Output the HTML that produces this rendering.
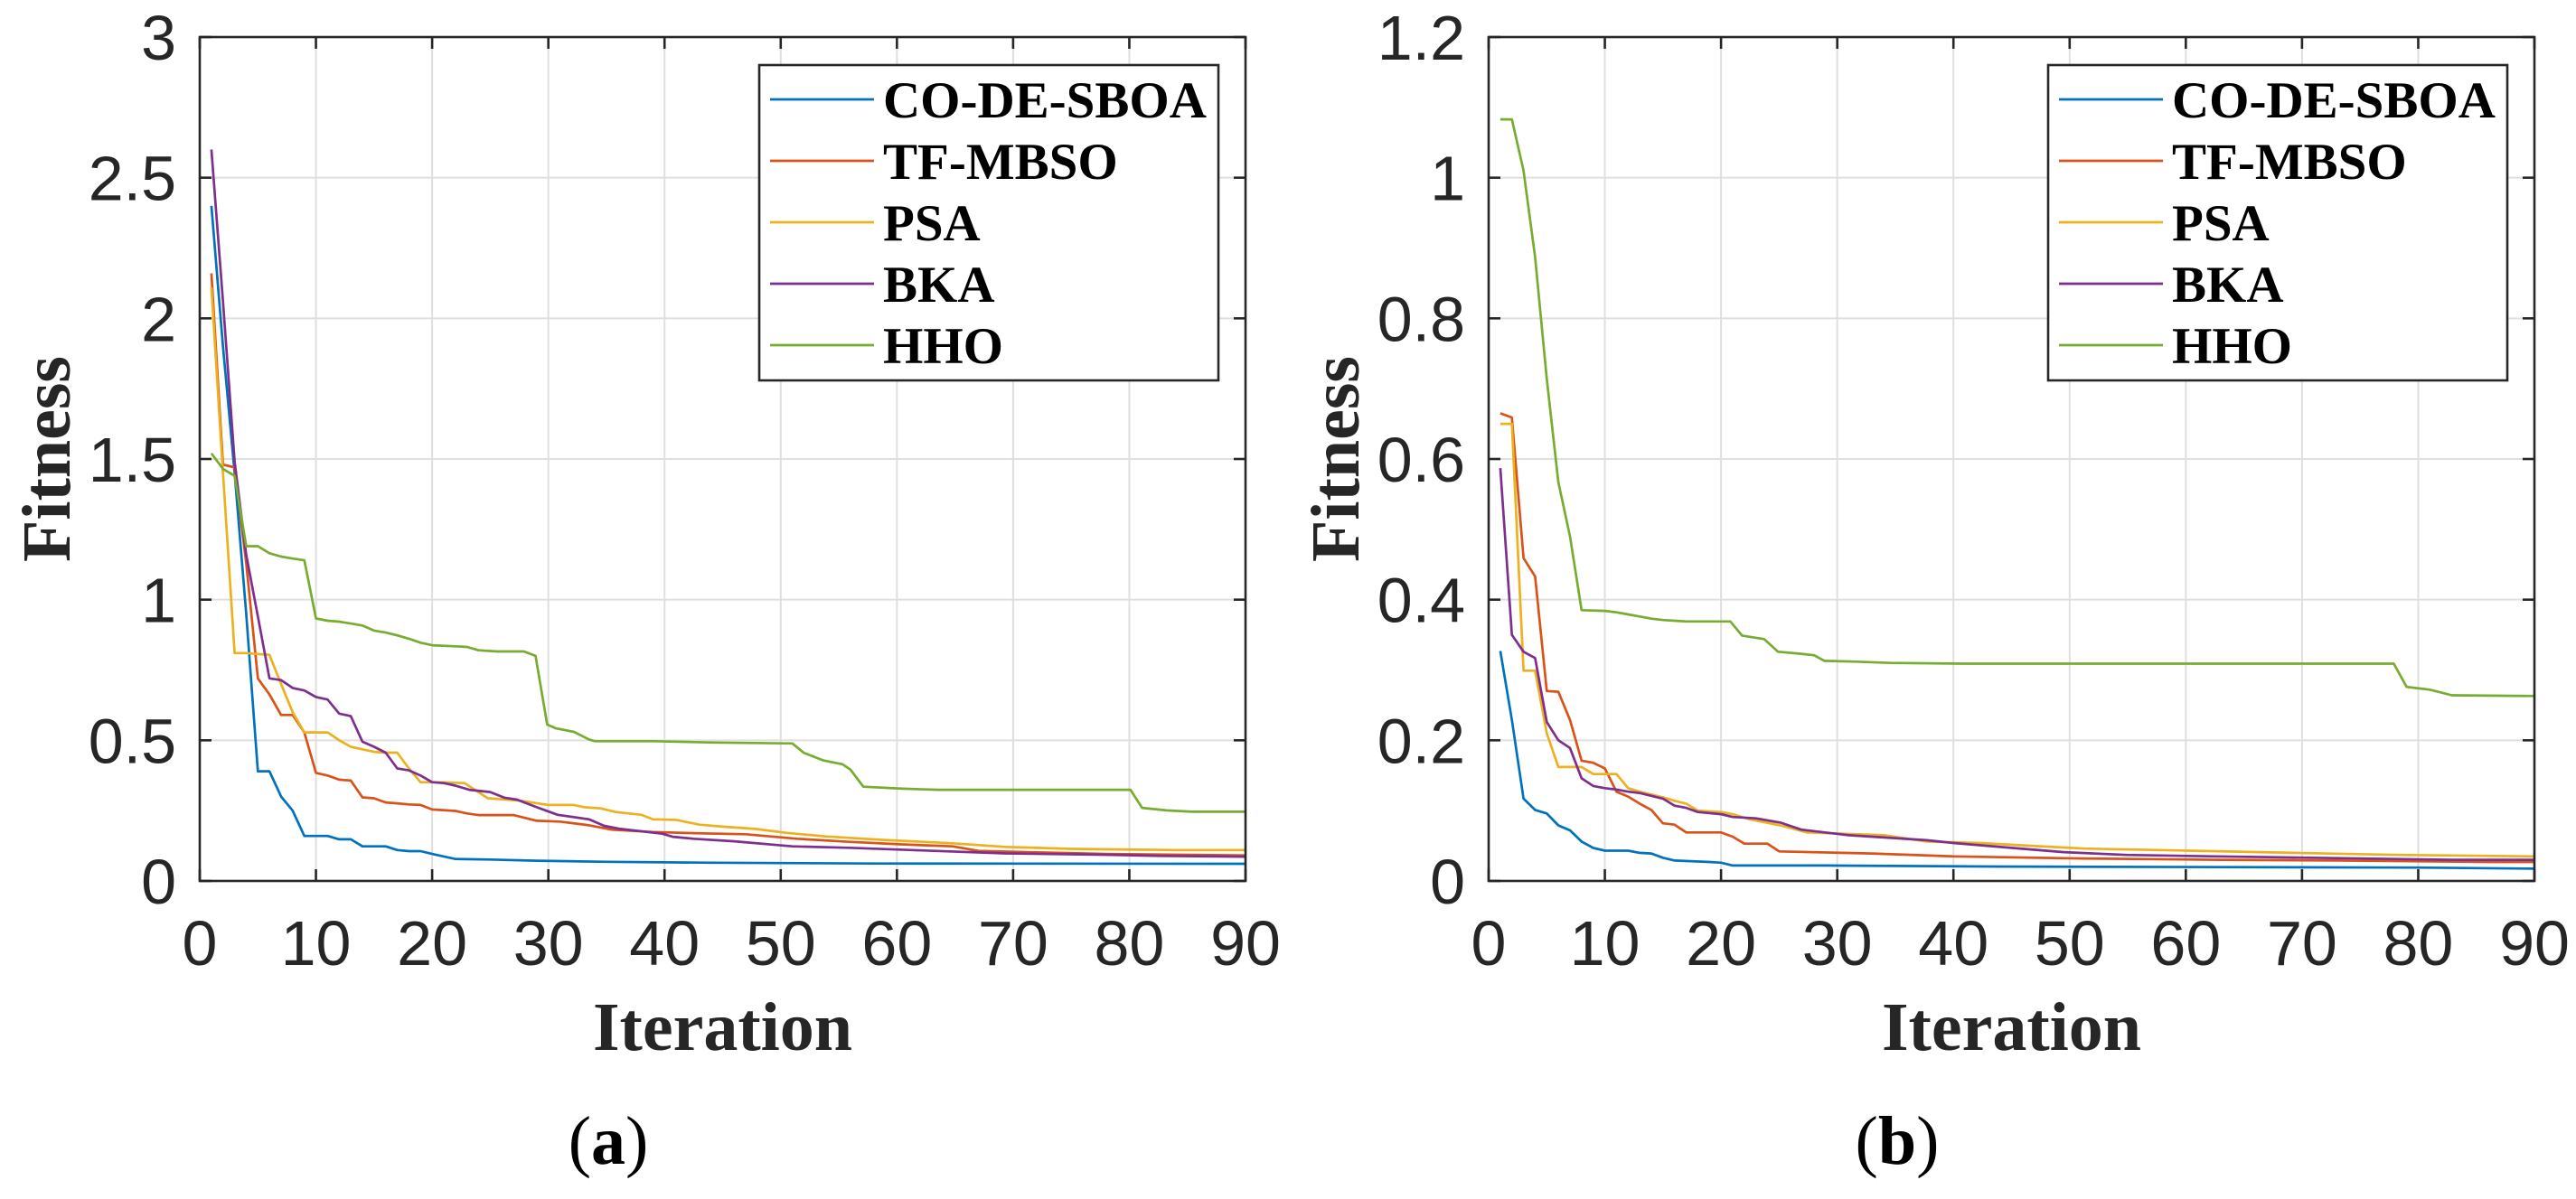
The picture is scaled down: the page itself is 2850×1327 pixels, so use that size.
<!DOCTYPE html>
<html><head><meta charset="utf-8"><style>
html,body{margin:0;padding:0;background:#fff;}
svg{display:block;}
</style></head><body>
<svg id="fig" width="2850" height="1327" viewBox="0 0 2850 1327" xmlns="http://www.w3.org/2000/svg"></svg>
<script>
// ---------- Panel (a) data ----------
const a_CO_iter = [1,2,3,4,5,6,7,8,9,10,11,12,13,14,15,16,17,18,19,20,21,22,25,29,35,44,58,90];
const a_CO_fit  = [2.40,1.90,1.45,0.95,0.39,0.39,0.30,0.25,0.16,0.16,0.16,0.148,0.148,0.123,0.123,0.123,0.11,0.106,0.106,0.096,0.087,0.078,0.076,0.072,0.068,0.065,0.062,0.061];
const a_TF_iter = [1,2,3,4,5,6,7,8,9,10,11,12,13,14,15,16,17,18,19,20,22,23,24,27,29,31,33.5,35.5,39,42.5,47,51.4,55.9,60.4,64.8,67,71.6,78,90];
const a_TF_fit  = [2.16,1.48,1.47,1.13,0.72,0.663,0.59,0.59,0.528,0.384,0.375,0.36,0.357,0.297,0.294,0.279,0.276,0.272,0.27,0.254,0.249,0.24,0.234,0.234,0.214,0.211,0.198,0.182,0.174,0.17,0.166,0.15,0.139,0.13,0.123,0.107,0.102,0.096,0.091];
const a_PSA_iter = [1,2,3,4,5,6,7,8,9,10,11,12,13,14,15,16,17,18,19,20,21,22.8,24.8,27.5,30,32.2,33.1,34.5,35.8,38,39,41,43,45,47.8,50.5,54,58.7,64.8,69.3,75,84,90];
const a_PSA_fit  = [2.11,1.45,0.81,0.81,0.807,0.804,0.70,0.60,0.528,0.528,0.528,0.50,0.477,0.468,0.459,0.456,0.456,0.40,0.351,0.351,0.35,0.348,0.294,0.286,0.27,0.27,0.262,0.258,0.245,0.235,0.219,0.217,0.20,0.193,0.185,0.171,0.158,0.146,0.134,0.121,0.114,0.11,0.11];
const a_BKA_iter = [1,2,3,4,5,6,7,8,9,10,11,12,13,14,15,16,17,18,19,20,21,22,23.2,25,26.2,27.3,29,30.8,33.5,34.8,36.2,39.8,40.7,42.5,46,51,55.9,61.3,69.3,78,82.7,90];
const a_BKA_fit  = [2.60,2.06,1.49,1.16,0.94,0.72,0.714,0.686,0.677,0.654,0.645,0.595,0.586,0.495,0.477,0.456,0.40,0.393,0.375,0.351,0.348,0.339,0.324,0.316,0.296,0.289,0.262,0.235,0.219,0.196,0.185,0.168,0.157,0.15,0.141,0.123,0.118,0.11,0.098,0.093,0.089,0.086];
const a_HHO_iter = [1,2,3,4,5,6,7,8,9,10,11,12,13,14,15,16,17,18,19,20,22,23,24,25.6,27.9,28.9,29.9,30.6,32.2,33.5,34,39,44.3,51,52,53.7,55.3,56,57.1,60.5,63.6,80.1,81.1,83.2,85.4,90];
const a_HHO_fit  = [1.52,1.465,1.44,1.19,1.19,1.165,1.153,1.146,1.14,0.933,0.925,0.922,0.915,0.908,0.89,0.883,0.873,0.861,0.847,0.838,0.834,0.832,0.82,0.816,0.816,0.80,0.556,0.543,0.53,0.503,0.497,0.497,0.492,0.489,0.455,0.428,0.415,0.396,0.335,0.328,0.324,0.324,0.26,0.251,0.246,0.246];
const a_yTicks = [0,0.5,1,1.5,2,2.5,3];
const a_yTickLabels = ["0","0.5","1","1.5","2","2.5","3"];

// ---------- Panel (b) data ----------
const b_CO_iter = [1,2,3,4,5,6,7,8,9,10,12,13,14,15,16,19,20,21,29,43,80,90];
const b_CO_fit  = [0.327,0.229,0.117,0.101,0.096,0.079,0.072,0.056,0.047,0.043,0.043,0.04,0.039,0.033,0.029,0.027,0.026,0.022,0.022,0.0205,0.019,0.0175];
const b_TF_iter = [1,2,3,4,5,6,7,8,9,10,11,12,13,14,15,16,17,20,21,22,24,25,33,40,51,63,73,86,90];
const b_TF_fit  = [0.665,0.659,0.459,0.433,0.27,0.269,0.229,0.171,0.168,0.16,0.127,0.12,0.11,0.101,0.082,0.08,0.069,0.069,0.063,0.053,0.053,0.042,0.039,0.035,0.032,0.03,0.029,0.027,0.027];
const b_PSA_iter = [1,2,3,4,5,6,8,9,11,12,13,14,15,16,17,18,20,21,22.4,25.1,27.4,34.1,37.7,42.3,46.7,51.3,60.3,69.3,78.4,90];
const b_PSA_fit  = [0.65,0.65,0.299,0.299,0.21,0.162,0.162,0.152,0.152,0.132,0.127,0.123,0.119,0.114,0.11,0.1,0.098,0.095,0.088,0.079,0.069,0.065,0.056,0.054,0.05,0.046,0.043,0.04,0.037,0.035];
const b_BKA_iter = [1,2,3,4,5,6,7,8,9,10,11,12,13,14,15,16,17,18,20,21,23,25.1,26.9,31,37.7,40,45,49.5,54.9,62.6,82.9,90];
const b_BKA_fit  = [0.587,0.35,0.326,0.317,0.226,0.2,0.189,0.146,0.135,0.132,0.13,0.127,0.125,0.121,0.117,0.107,0.104,0.098,0.095,0.091,0.089,0.083,0.073,0.065,0.058,0.054,0.047,0.041,0.037,0.035,0.03,0.03];
const b_HHO_iter = [1,2,3,4,5,6,7,8,10,11,12,13,14,15,16,17,20.8,21.8,23.7,24.9,26.9,28,28.9,31.4,34.6,40.7,77.9,79,81,82.9,90];
const b_HHO_fit  = [1.083,1.083,1.01,0.887,0.714,0.567,0.49,0.385,0.384,0.382,0.379,0.376,0.373,0.371,0.37,0.369,0.369,0.349,0.344,0.326,0.323,0.321,0.313,0.312,0.31,0.309,0.309,0.276,0.272,0.264,0.263];
const b_yTicks = [0,0.2,0.4,0.6,0.8,1,1.2];
const b_yTickLabels = ["0","0.2","0.4","0.6","0.8","1","1.2"];

const xTicks = [0,10,20,30,40,50,60,70,80,90];
const xTickLabels = ["0","10","20","30","40","50","60","70","80","90"];
const seriesNames = ["CO-DE-SBOA","TF-MBSO","PSA","BKA","HHO"];

const NS = "http://www.w3.org/2000/svg";
const svg = document.getElementById('fig');
const colors = ["#0072BD","#D95319","#EDB120","#7E2F8E","#77AC30"];
function mk(tag, attrs, parent){
  const e = document.createElementNS(NS, tag);
  for (const k in attrs) e.setAttribute(k, attrs[k]);
  (parent||svg).appendChild(e);
  return e;
}

function panel(id, left, yMax, yTicks, yLabels, series, letter){
  const top = 41, W = 1157, H = 934;
  const g = mk('g', {});
  
  
  const xs = v => left + v / 90 * W;
  const ys = v => top + H - v / yMax * H;
  // grid
  xTicks.forEach(t => {
    if (t === 0 || t === 90) return;
    const l = mk('line', {x1: xs(t), x2: xs(t), y1: top, y2: top + H, stroke: '#dfdfdf', 'stroke-width': 2}, g);
    
    
  });
  yTicks.forEach(t => {
    if (t === 0 || t === yMax) return;
    const l = mk('line', {x1: left, x2: left + W, y1: ys(t), y2: ys(t), stroke: '#dfdfdf', 'stroke-width': 2}, g);
    
    
  });
  // series
  series.forEach((s, i) => {
    const pts = [];
    const n = Math.min(s[0].length, s[1].length);
    for (let k = 0; k < n; k++) pts.push(xs(s[0][k]).toFixed(1) + ',' + ys(s[1][k]).toFixed(1));
    const p = mk('polyline', {points: pts.join(' '), fill: 'none', stroke: colors[i], 'stroke-width': 2.7, 'stroke-linejoin': 'round'}, g);
    
    
  });
  // ticks
  xTicks.forEach((t, i) => {
    mk('line', {x1: xs(t), x2: xs(t), y1: top + H, y2: top + H - 13, stroke: '#262626', 'stroke-width': 2.6}, g);
    mk('line', {x1: xs(t), x2: xs(t), y1: top, y2: top + 13, stroke: '#262626', 'stroke-width': 2.6}, g);
    const tx = mk('text', {x: xs(t), y: 1068, 'text-anchor': 'middle', 'font-family': 'Liberation Sans, Arial, sans-serif', 'font-size': 70, fill: '#262626'}, g);
    tx.textContent = xTickLabels[i];
    
    
  });
  yTicks.forEach((t, i) => {
    mk('line', {x1: left, x2: left + 13, y1: ys(t), y2: ys(t), stroke: '#262626', 'stroke-width': 2.6}, g);
    mk('line', {x1: left + W, x2: left + W - 13, y1: ys(t), y2: ys(t), stroke: '#262626', 'stroke-width': 2.6}, g);
    const tx = mk('text', {x: left - 26, y: ys(t) + 25, 'text-anchor': 'end', 'font-family': 'Liberation Sans, Arial, sans-serif', 'font-size': 70, fill: '#262626'}, g);
    tx.textContent = yLabels[i];
    
    
  });
  // box
  const box = mk('rect', {x: left, y: top, width: W, height: H, fill: 'none', stroke: '#262626', 'stroke-width': 2.6}, g);
  
  
  // axis titles
  const xt = mk('text', {x: left + W / 2, y: 1162, 'text-anchor': 'middle', 'font-family': 'Liberation Serif, Times New Roman, serif', 'font-weight': 'bold', 'font-size': 76, fill: '#262626'}, g);
  xt.textContent = 'Iteration';
  
  
  const yx = left - 144, yy = top + H / 2;
  const yt = mk('text', {x: yx, y: yy, transform: 'rotate(-90 ' + yx + ' ' + yy + ')', 'text-anchor': 'middle', 'font-family': 'Liberation Serif, Times New Roman, serif', 'font-weight': 'bold', 'font-size': 76, fill: '#262626'}, g);
  yt.textContent = 'Fitness';
  
  
  // legend
  const lg = mk('g', {}, g);
  
  
  const lx = left + 619;
  mk('rect', {x: lx, y: 72, width: 508, height: 349, fill: '#fff', stroke: '#262626', 'stroke-width': 2.6}, lg);
  seriesNames.forEach((nm, i) => {
    const cy = 110 + i * 68;
    const e = mk('g', {}, lg);
    
    
    mk('line', {x1: lx + 12, x2: lx + 127, y1: cy, y2: cy, stroke: colors[i], 'stroke-width': 2.7}, e);
    const t = mk('text', {x: lx + 137, y: cy + 20, 'font-family': 'Liberation Serif, Times New Roman, serif', 'font-weight': 'bold', 'font-size': 57, fill: '#000'}, e);
    t.textContent = nm;
  });
  // caption
  const cap = mk('text', {x: left + 452, y: 1288, 'text-anchor': 'middle', 'font-family': 'Liberation Serif, Times New Roman, serif', 'font-size': 76, fill: '#000'}, g);
  
  
  const s1 = mk('tspan', {}, cap); s1.textContent = '(';
  const s2 = mk('tspan', {'font-weight': 'bold'}, cap); s2.textContent = letter;
  const s3 = mk('tspan', {}, cap); s3.textContent = ')';
}

panel('a', 221, 3, a_yTicks, a_yTickLabels,
  [[a_CO_iter, a_CO_fit],[a_TF_iter, a_TF_fit],[a_PSA_iter, a_PSA_fit],[a_BKA_iter, a_BKA_fit],[a_HHO_iter, a_HHO_fit]], 'a');
panel('b', 1647, 1.2, b_yTicks, b_yTickLabels,
  [[b_CO_iter, b_CO_fit],[b_TF_iter, b_TF_fit],[b_PSA_iter, b_PSA_fit],[b_BKA_iter, b_BKA_fit],[b_HHO_iter, b_HHO_fit]], 'b');
</script>
</body></html>
